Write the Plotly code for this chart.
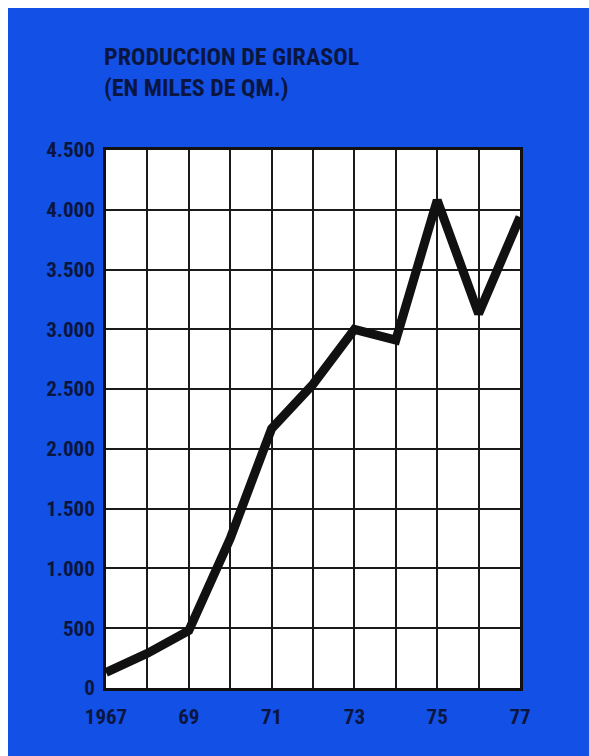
import plotly.graph_objects as go

years = [1967, 1968, 1969, 1970, 1971, 1972, 1973, 1974, 1975, 1976, 1977]
produccion = [130, 290, 480, 1250, 2170, 2540, 3000, 2910, 4080, 3130, 3940]

y_tickvals = [0, 500, 1000, 1500, 2000, 2500, 3000, 3500, 4000, 4500]
y_ticktext = ["0", "500", "1.000", "1.500", "2.000", "2.500", "3.000", "3.500", "4.000", "4.500"]
x_tickvals = [1967, 1969, 1971, 1973, 1975, 1977]
x_ticktext = ["1967", "69", "71", "73", "75", "77"]

title_lines = ["PRODUCCION DE GIRASOL", "(EN MILES DE QM.)"]

FONT = "Liberation Sans Narrow, Roboto Condensed, Arial Narrow, Liberation Sans, sans-serif"
TXT = "#0b1640"
BLUE = "#1350e6"
GRID = "#1a1a1a"

fig = go.Figure()
fig.add_trace(go.Scatter(
    x=years, y=produccion, mode="lines",
    line=dict(color="#111111", width=9),
    hoverinfo="skip", showlegend=False,
))

fig.update_layout(
    width=589, height=756,
    margin=dict(l=98, r=77, t=142, b=76),
    paper_bgcolor=BLUE, plot_bgcolor="white",
    font=dict(family=FONT, color=TXT),
    xaxis=dict(
        range=[1967, 1977],
        showgrid=True, gridcolor=GRID, gridwidth=1.5,
        showline=True, linecolor="#111111", linewidth=3, mirror=True,
        tickmode="array", tickvals=x_tickvals, ticktext=x_ticktext,
        ticks="", ticklabelstandoff=8,
        tickfont=dict(size=21, family=FONT, color=TXT, weight="bold"),
        zeroline=False, fixedrange=True,
        minor=dict(dtick=1, tick0=1967, showgrid=True, gridcolor=GRID, gridwidth=1.5),
    ),
    yaxis=dict(
        range=[0, 4500],
        showline=True, linecolor="#111111", linewidth=3, mirror=True,
        tickmode="array", tickvals=y_tickvals, ticktext=y_ticktext,
        ticks="", ticklabelstandoff=4,
        showgrid=True, gridcolor=GRID, gridwidth=1.5,
        tickfont=dict(size=21, family=FONT, color=TXT, weight="bold"),
        zeroline=False, fixedrange=True,
    ),
)

fig.add_annotation(
    text="<br>".join(title_lines),
    xref="paper", yref="paper", x=0, y=1.0, yanchor="middle", xanchor="left",
    xshift=-4, yshift=78, align="left", showarrow=False,
    font=dict(size=24, family=FONT, color=TXT, weight="bold"),
)

fig.write_html(
    "out.html",
    post_script="document.documentElement.style.overflow='hidden';"
                "document.body.style.overflow='hidden';"
                "document.body.style.margin='8px 0 0 8px';",
)
